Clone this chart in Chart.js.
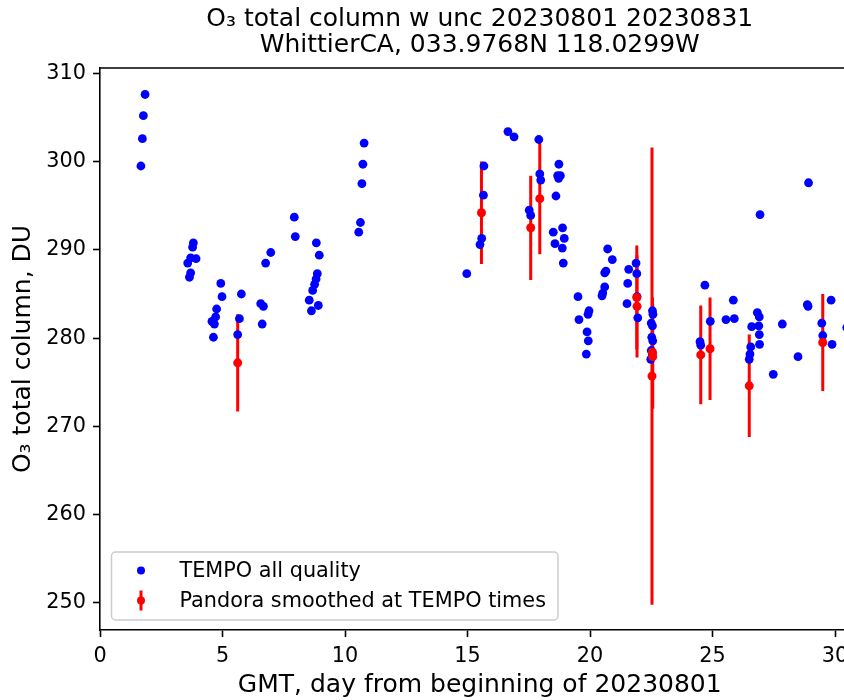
<!DOCTYPE html>
<html>
<head>
<meta charset="utf-8">
<title>O3 total column</title>
<script src="https://cdn.jsdelivr.net/npm/chart.js@4.4.0/dist/chart.umd.min.js"></script>
<style>
    html, body { margin: 0; padding: 0; background: #fff; overflow: hidden; }
    #wrap { width: 844px; height: 700px; overflow: hidden; }
    canvas { display: block; }
</style>
</head>
<body>
<div id="wrap"><canvas id="o3Chart" width="880" height="700"></canvas></div>
<script>
// TEMPO retrievals (all quality)
const tempoDay = [
    1.67, 1.73, 1.77, 1.84,
    3.58, 3.65, 3.70, 3.70, 3.78, 3.81, 3.92,
    4.57, 4.63, 4.67, 4.72, 4.76, 4.93, 4.98,
    5.62, 5.69, 5.77,
    6.56, 6.62, 6.67, 6.76, 6.97,
    7.93, 7.97,
    8.54, 8.63, 8.68, 8.76, 8.82, 8.83, 8.87, 8.91, 8.95,
    10.56, 10.63, 10.69, 10.73, 10.78,
    14.97, 15.51, 15.58, 15.65, 15.67,
    16.65, 16.90,
    17.52, 17.58, 17.91, 17.95, 17.99,
    18.50, 18.57, 18.61, 18.68, 18.73, 18.79, 18.72, 18.87, 18.88, 18.91, 18.95,
    19.51, 19.55, 19.85, 19.88, 19.92, 19.93, 19.96,
    20.49, 20.52, 20.60, 20.60, 20.65, 20.72, 20.91,
    21.51, 21.54, 21.58, 21.88, 21.91, 21.92, 21.95,
    22.55, 22.57, 22.50, 22.55, 22.52, 22.56, 22.50, 22.54, 22.48,
    24.49, 24.52, 24.69, 24.91,
    25.55, 25.85, 25.89,
    26.50, 26.53, 26.56, 26.60, 26.83, 26.89, 26.91, 26.91, 26.92, 26.94,
    27.48, 27.85,
    28.49, 28.87, 28.92, 28.90,
    29.46, 29.50, 29.84, 29.88,
    30.48
];
const tempoO3 = [
    299.5, 302.6, 305.2, 307.6,
    288.5, 286.9, 287.4, 289.1, 290.3, 290.8, 289.0,
    281.9, 280.1, 281.6, 282.4, 283.3, 286.2, 284.7,
    280.4, 282.2, 285.0,
    283.9, 281.6, 283.6, 288.5, 289.7,
    293.7, 291.5,
    284.3, 283.1, 285.4, 286.1, 286.7, 290.8, 287.3, 283.7, 289.4,
    292.0, 293.1, 297.5, 299.7, 302.1,
    287.3, 290.6, 291.3, 296.2, 299.5,
    303.4, 302.8,
    294.5, 293.9, 302.5, 298.6, 297.9,
    292.0, 290.7, 296.1, 298.4, 299.7, 298.4, 298.1, 290.2, 292.5, 288.5, 291.3,
    284.7, 282.1, 278.2, 280.7, 282.7, 279.7, 283.1,
    284.8, 285.1, 285.8, 287.4, 287.6, 290.1, 288.9,
    283.9, 286.2, 287.8, 288.5, 287.3, 284.7, 282.3,
    283.1, 282.7, 281.7, 281.4, 280.1, 279.7, 278.6, 278.2, 277.6,
    279.6, 279.2, 286.0, 281.9,
    282.1, 284.3, 282.2,
    277.6, 278.2, 279.0, 281.3, 282.9, 281.4, 282.4, 280.4, 279.3, 294.0,
    275.9, 281.6,
    277.9, 283.8, 297.6, 283.6,
    281.7, 280.3, 284.3, 279.3,
    281.2
];

// Pandora smoothed at TEMPO times, with uncertainty
const pandoraDay = [5.62, 15.57, 17.58, 17.95, 21.91, 21.92, 22.55, 22.56, 22.53, 24.52, 24.90, 26.50, 29.50];
const pandoraO3  = [277.2, 294.2, 292.5, 295.8, 284.6, 283.6, 278.4, 277.9, 275.7, 278.1, 278.8, 274.6, 279.5];
const pandoraErr = [5.5, 5.8, 5.9, 6.3, 5.9, 5.8, 6.2, 5.9, 25.9, 5.6, 5.8, 5.8, 5.5];

const titleLines = ['O\u2083 total column w unc 20230801 20230831', 'WhittierCA, 033.9768N 118.0299W'];

Chart.defaults.font.family = "'DejaVu Sans', sans-serif";
Chart.defaults.color = '#000';

// vertical error bars, drawn under the markers
const errorBars = {
    id: 'errorBars',
    beforeDatasetsDraw(chart) {
        const {ctx, chartArea, scales} = chart;
        ctx.save();
        ctx.beginPath();
        ctx.rect(chartArea.left, chartArea.top, chartArea.right - chartArea.left, chartArea.bottom - chartArea.top);
        ctx.clip();
        ctx.strokeStyle = 'red';
        ctx.lineWidth = 3;
        pandoraDay.forEach((d, i) => {
            const x = scales.x.getPixelForValue(d);
            ctx.beginPath();
            ctx.moveTo(x, scales.y.getPixelForValue(pandoraO3[i] - pandoraErr[i]));
            ctx.lineTo(x, scales.y.getPixelForValue(pandoraO3[i] + pandoraErr[i]));
            ctx.stroke();
        });
        ctx.restore();
    }
};

// top and right spines
const frame = {
    id: 'frame',
    afterDraw(chart) {
        const {ctx, chartArea} = chart;
        ctx.save();
        ctx.strokeStyle = '#000';
        ctx.lineWidth = 1.6;
        ctx.beginPath();
        ctx.moveTo(chartArea.left, chartArea.top);
        ctx.lineTo(chartArea.right, chartArea.top);
        ctx.lineTo(chartArea.right, chartArea.bottom);
        ctx.stroke();
        ctx.restore();
    }
};

// matplotlib-like legend in the lower left corner
const legendBox = {
    id: 'legendBox',
    afterDraw(chart) {
        const {ctx, chartArea} = chart;
        const ds = chart.data.datasets;
        ctx.save();
        ctx.font = '20.8px "DejaVu Sans", sans-serif';
        const textW = Math.max(...ds.map(d => ctx.measureText(d.label).width));
        const left = chartArea.left + 11.5;
        const bottom = chartArea.bottom - 10;
        const w = 68 + textW + 12;
        const h = 68;
        const top = bottom - h;
        ctx.beginPath();
        ctx.roundRect(left, top, w, h, 4);
        ctx.fillStyle = 'rgba(255,255,255,0.8)';
        ctx.fill();
        ctx.strokeStyle = '#cccccc';
        ctx.lineWidth = 1.5;
        ctx.stroke();

        ctx.textBaseline = 'middle';
        ctx.textAlign = 'left';
        ds.forEach((d, i) => {
            const cy = top + 18.5 + i * 30;
            const mx = left + 29.5;
            if (d.errorBar) {
                ctx.strokeStyle = d.backgroundColor;
                ctx.lineWidth = 3;
                ctx.beginPath();
                ctx.moveTo(mx, cy - 10);
                ctx.lineTo(mx, cy + 10);
                ctx.stroke();
            }
            ctx.fillStyle = d.backgroundColor;
            ctx.beginPath();
            ctx.arc(mx, cy, 4, 0, Math.PI * 2);
            ctx.fill();
            ctx.fillStyle = '#000';
            ctx.fillText(d.label, left + 68, cy + 1);
        });
        ctx.restore();
    }
};

const ctx = document.getElementById('o3Chart').getContext('2d');
new Chart(ctx, {
    type: 'scatter',
    data: {
        datasets: [
            {
                label: 'TEMPO all quality',
                data: tempoDay.map((d, i) => ({x: d, y: tempoO3[i]})),
                backgroundColor: 'blue',
                borderWidth: 0,
                pointRadius: 4.4,
                order: 2
            },
            {
                label: 'Pandora smoothed at TEMPO times',
                data: pandoraDay.map((d, i) => ({x: d, y: pandoraO3[i]})),
                backgroundColor: 'red',
                borderWidth: 0,
                pointRadius: 4.5,
                errorBar: true,
                order: 1
            }
        ]
    },
    options: {
        responsive: false,
        animation: false,
        events: [],
        layout: { padding: { left: 0, right: 20.5, top: 0, bottom: 0 } },
        plugins: {
            legend: { display: false },
            tooltip: { enabled: false },
            title: {
                display: true,
                fullSize: false,
                text: titleLines,
                color: '#000',
                font: { size: 25, weight: 'normal', lineHeight: 1.04 },
                padding: { top: 6, bottom: 10 }
            }
        },
        scales: {
            x: {
                type: 'linear',
                min: 0,
                max: 31,
                ticks: { stepSize: 5, includeBounds: false, color: '#000', font: { size: 20.8 }, padding: 7, maxRotation: 0 },
                grid: { drawOnChartArea: false, drawTicks: true, tickLength: 7, tickWidth: 1.6, tickColor: '#000' },
                border: { display: true, color: '#000', width: 1.6 },
                title: { display: true, text: 'GMT, day from beginning of 20230801', color: '#000', font: { size: 25 }, padding: { top: 0, bottom: 0 } },
                afterFit(scale) { scale.height = 70; scale.paddingLeft = 0; scale.paddingRight = 0; }
            },
            y: {
                min: 246.94,
                max: 310.6,
                ticks: { stepSize: 10, includeBounds: false, color: '#000', font: { size: 20.8 }, padding: 7 },
                grid: { drawOnChartArea: false, drawTicks: true, tickLength: 7, tickWidth: 1.6, tickColor: '#000' },
                border: { display: true, color: '#000', width: 1.6 },
                title: { display: true, text: 'O\u2083 total column, DU', color: '#000', font: { size: 25 }, padding: { top: 8, bottom: 0 } },
                afterFit(scale) { scale.width = 100; scale.paddingTop = 0; scale.paddingBottom = 0; }
            }
        }
    },
    plugins: [errorBars, frame, legendBox]
});
</script>
</body>
</html>
